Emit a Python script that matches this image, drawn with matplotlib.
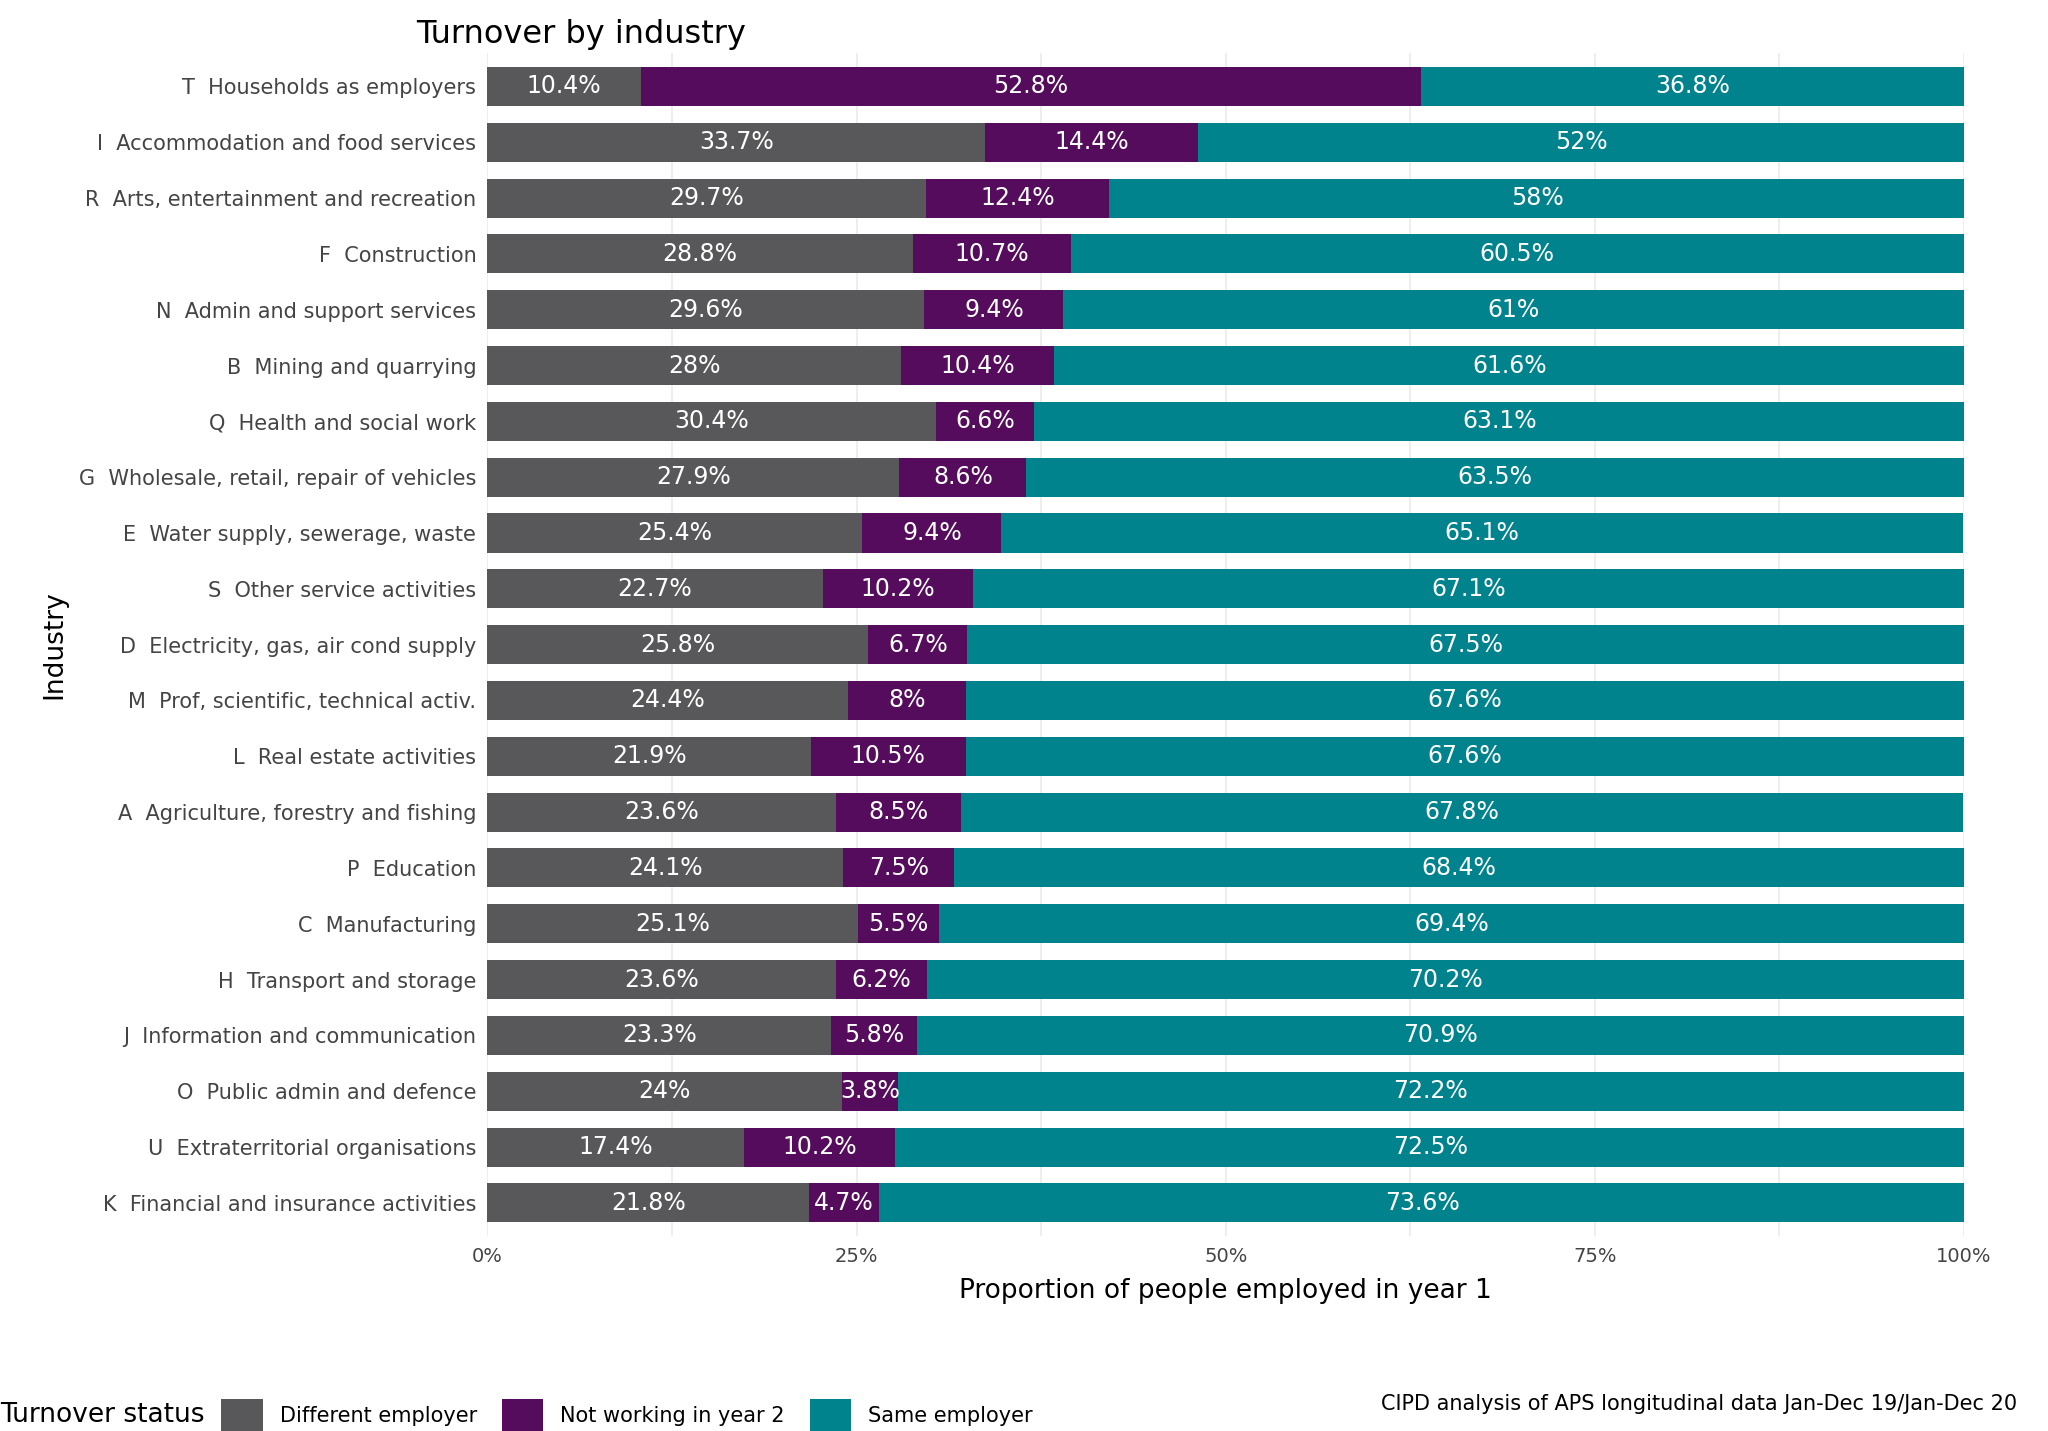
import matplotlib.pyplot as plt
import numpy as np

industries = [
    "T  Households as employers", "I  Accommodation and food services",
    "R  Arts, entertainment and recreation", "F  Construction",
    "N  Admin and support services", "B  Mining and quarrying",
    "Q  Health and social work", "G  Wholesale, retail, repair of vehicles",
    "E  Water supply, sewerage, waste", "S  Other service activities",
    "D  Electricity, gas, air cond supply", "M  Prof, scientific, technical activ.",
    "L  Real estate activities", "A  Agriculture, forestry and fishing",
    "P  Education", "C  Manufacturing", "H  Transport and storage",
    "J  Information and communication", "O  Public admin and defence",
    "U  Extraterritorial organisations", "K  Financial and insurance activities",
]
different = [10.4, 33.7, 29.7, 28.8, 29.6, 28, 30.4, 27.9, 25.4, 22.7, 25.8,
             24.4, 21.9, 23.6, 24.1, 25.1, 23.6, 23.3, 24, 17.4, 21.8]
not_working = [52.8, 14.4, 12.4, 10.7, 9.4, 10.4, 6.6, 8.6, 9.4, 10.2, 6.7,
               8, 10.5, 8.5, 7.5, 5.5, 6.2, 5.8, 3.8, 10.2, 4.7]
same = [36.8, 52, 58, 60.5, 61, 61.6, 63.1, 63.5, 65.1, 67.1, 67.5,
        67.6, 67.6, 67.8, 68.4, 69.4, 70.2, 70.9, 72.2, 72.5, 73.6]

series = [("Different employer", different, "#58585a"),
          ("Not working in year 2", not_working, "#550c5c"),
          ("Same employer", same, "#00838d")]

fig = plt.figure(figsize=(20.48, 14.31), dpi=100)
ax = fig.add_axes([0.238, 0.136, 0.721, 0.827])

y = np.arange(len(industries))
left = np.zeros(len(industries))
for name, vals, col in series:
    vals = np.array(vals, dtype=float)
    ax.barh(y, vals, left=left, height=0.7, color=col, label=name, zorder=2)
    for yi, l, v in zip(y, left, vals):
        ax.text(l + v / 2, yi, f"{v:g}%", color="white", ha="center",
                va="center", fontsize=17, zorder=3)
    left += vals

ax.set_ylim(len(industries) - 0.4, -0.6)
ax.set_xlim(0, 100)
ax.set_yticks(y)
ax.set_yticklabels(industries, fontsize=15, color="#444444")
ax.set_xticks([0, 25, 50, 75, 100])
ax.set_xticklabels(["0%", "25%", "50%", "75%", "100%"], fontsize=14, color="#444444")
ax.set_xticks([12.5, 37.5, 62.5, 87.5], minor=True)
ax.tick_params(length=0, which="both", pad=8)
ax.grid(True, which="both", color="#ebebeb", lw=1.2, zorder=0)
for s in ax.spines.values():
    s.set_visible(False)
ax.set_xlabel("Proportion of people employed in year 1", fontsize=19, labelpad=8)
ax.set_ylabel("Industry", fontsize=19, labelpad=8)
fig.text(0.203, 0.976, "Turnover by industry", fontsize=23, va="center")

ax.legend(loc="upper center", bbox_to_anchor=(0.49, -0.085), ncol=3, frameon=False,
          fontsize=15, title="Turnover status", title_fontsize=19,
          alignment="left", handlelength=2, handleheight=2, columnspacing=1.2)
leg = ax.get_legend()
leg._legend_box.align = "left"
# put title to the left of entries
from matplotlib.offsetbox import HPacker
box = leg._legend_box
title_box, handles_box = box.get_children()
leg._legend_box = HPacker(children=[title_box, handles_box], align="center", pad=0, sep=12)
leg._legend_box.set_figure(fig)

fig.text(0.985, 0.012, "CIPD analysis of APS longitudinal data Jan-Dec 19/Jan-Dec 20",
         ha="right", va="bottom", fontsize=15)
fig.savefig("out.png", dpi=100)
